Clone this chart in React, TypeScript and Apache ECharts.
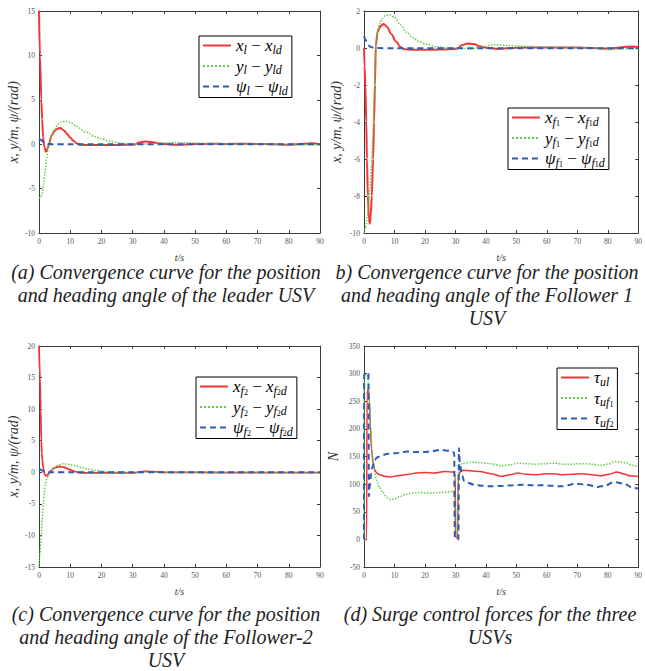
import React, { useEffect, useRef } from 'react';
import * as echarts from 'echarts';

// ---------- (a) leader USV ----------
const T_A_X = [0, 0.3, 0.75, 1.0, 1.3, 1.7, 2.2, 2.7, 3.2, 4, 5, 6, 6.8, 8, 9, 10, 11, 12, 13, 15, 20, 25, 30, 31, 32, 34, 36, 38, 40, 43, 46, 50, 55, 60, 65, 70, 75, 80, 85, 87, 90];
const V_A_X = [15, 10, 5, 2.8, 0.8, -0.3, -0.86, -0.55, 0, 0.95, 1.5, 1.77, 1.82, 1.55, 1.15, 0.75, 0.4, 0.12, -0.05, -0.1, -0.1, -0.08, -0.05, 0, 0.18, 0.3, 0.26, 0.12, 0.02, -0.05, -0.05, 0.02, 0.05, 0.03, 0.05, 0.03, 0, -0.05, 0.05, 0.1, 0];
const T_A_Y = [0, 0.5, 1, 1.5, 2, 2.5, 3, 3.5, 4, 5, 6, 7, 8.5, 10, 12, 15, 18, 20, 23, 26, 30, 34, 38, 42, 44, 48, 55, 60, 70, 80, 90];
const V_A_Y = [-6.1, -6.0, -5.6, -4.5, -3.0, -1.5, -0.4, 0.4, 1.0, 1.7, 2.2, 2.5, 2.6, 2.45, 2.0, 1.35, 0.85, 0.6, 0.3, 0.12, 0.0, 0.02, 0.1, 0.18, 0.2, 0.15, 0.08, 0.05, 0.03, -0.05, -0.05];
const T_A_P = [0, 0.5, 1, 1.5, 2, 2.5, 3, 4, 10, 20, 30, 40, 50, 60, 70, 80, 90];
const V_A_P = [0.6, 0.5, 0.38, 0.25, 0.15, 0.07, 0.02, 0, 0, 0, 0, 0, 0, 0, 0, 0, 0];

// ---------- (b) follower 1 ----------
const T_B_X = [0, 0.2, 0.43, 0.75, 0.96, 1.28, 1.6, 1.9, 2.2, 2.56, 3.0, 3.3, 3.6, 3.85, 4.5, 5.5, 6.5, 7.5, 9, 10.5, 12, 13, 15, 20, 25, 30, 31, 32, 34, 36, 38, 40, 44, 50, 60, 70, 80, 88, 90];
const V_B_X = [0, -1, -2, -4, -6, -8, -9.2, -9.5, -9.1, -8, -6, -4, -2, 0.1, 0.9, 1.2, 1.3, 1.15, 0.75, 0.35, 0.05, -0.05, -0.1, -0.1, -0.08, -0.05, 0, 0.15, 0.25, 0.22, 0.1, 0.02, -0.05, 0.02, 0.03, 0.03, -0.03, 0.08, 0.05];
const T_B_Y = [0, 0.5, 1.0, 1.5, 2.0, 2.5, 2.9, 3.3, 3.6, 3.9, 4.3, 5, 6, 7, 8.5, 10, 12, 14, 16, 18, 20, 24, 28, 30, 33, 35, 38, 43, 47, 55, 60, 70, 76, 80, 85, 90];
const V_B_Y = [-10, -9.7, -9.2, -8.5, -7.6, -6.3, -4.8, -3, -1.5, 0, 0.8, 1.3, 1.6, 1.75, 1.8, 1.65, 1.25, 0.85, 0.55, 0.35, 0.22, 0.06, 0, 0, -0.02, -0.05, 0.05, 0.18, 0.13, 0.08, 0.05, 0.02, 0, -0.1, -0.05, -0.02];
const T_B_P = [0, 0.5, 1, 1.5, 2, 3, 4, 10, 30, 50, 70, 90];
const V_B_P = [0.65, 0.45, 0.28, 0.15, 0.07, 0.02, 0, -0.02, -0.02, -0.02, -0.02, -0.02];

// ---------- (c) follower 2 ----------
const T_C_X = [0, 0.32, 0.53, 0.75, 0.9, 1.07, 1.4, 1.8, 2.24, 2.7, 3.2, 4, 5, 6.7, 8, 9, 10, 11, 12, 13, 15, 20, 25, 30, 31, 32, 34, 36, 38, 40, 50, 60, 70, 80, 90];
const V_C_X = [20, 15, 10, 5, 3, 2, 0.6, -0.3, -0.58, -0.45, -0.1, 0.35, 0.7, 0.92, 0.8, 0.6, 0.4, 0.2, 0.05, -0.05, -0.1, -0.1, -0.1, -0.1, -0.05, 0.05, 0.15, 0.12, 0.05, 0, -0.02, -0.05, -0.05, -0.05, -0.05];
const T_C_Y = [0, 0.3, 0.75, 1.0, 1.4, 1.7, 2.0, 2.4, 3.0, 3.5, 4, 5, 6, 7.8, 9, 10, 12, 14, 16, 18, 20, 22, 25, 30, 35, 40, 50, 60, 70, 80, 90];
const V_C_Y = [-15, -13, -10, -7.5, -5, -3.2, -2, -1.2, -0.6, -0.1, 0.3, 0.8, 1.1, 1.35, 1.3, 1.2, 0.95, 0.7, 0.5, 0.32, 0.2, 0.1, 0.03, 0, 0, 0, 0, 0, 0, -0.02, -0.02];
const T_C_P = [0, 0.5, 1, 1.5, 2, 3, 4, 10, 30, 50, 70, 90];
const V_C_P = [0.6, 0.45, 0.3, 0.18, 0.1, 0.02, 0, 0, 0, 0, 0, 0];

// ---------- (d) surge forces ----------
const T_D_L = [0, 0.85, 1.0, 1.4, 1.8, 2.1, 2.45, 3.0, 3.5, 4.2, 5.1, 7, 8.9, 11, 14.7, 17, 20, 23, 26.5, 29.1, 29.9, 30.1, 30.7, 31.0, 31.8, 35, 38, 41.5, 45.2, 48, 50.5, 53, 56.4, 59.5, 62.2, 65, 68.1, 71.8, 75, 77.7, 80.5, 83, 85, 87.3, 90];
const V_D_L = [0, 0, 262, 273, 250, 205, 162, 138, 126, 120, 117, 114, 113, 115, 118, 120, 121, 120, 123, 122, 118, 3, 3, 115, 125, 124, 123, 119, 114, 117, 120, 118, 117, 119, 119, 117, 118, 119, 117, 115, 118, 122, 119, 115, 114];
const T_D_F1 = [0, 0.05, 1.0, 1.4, 1.8, 2.2, 2.6, 3.0, 3.5, 4.05, 5, 6.2, 7.5, 8.9, 10, 11.5, 13.5, 15.8, 18, 20, 23, 25.4, 28, 29.3, 29.7, 29.9, 30.6, 30.9, 31.4, 32, 35, 38, 41.5, 45.2, 48, 50.5, 53, 56.4, 59.5, 62.7, 65.5, 68.1, 70, 72.4, 75, 77.7, 80, 82.5, 84.5, 86.2, 88, 90];
const V_D_F1 = [0, 298, 298, 285, 245, 200, 165, 140, 122, 108, 95, 85, 76, 72, 73, 77, 81, 84, 85, 84, 84, 85, 86, 87, 80, 10, 10, 120, 132, 137, 140, 139, 137, 133, 135, 138, 137, 136, 137, 138, 136, 136, 137, 137, 136, 134, 136, 141, 140, 138, 134, 132];
const T_D_F2 = [0, 0.05, 1.45, 1.6, 1.9, 2.3, 2.8, 3.5, 4.5, 6.2, 8, 10.5, 12.5, 14.7, 17, 20, 22.5, 24.9, 28.6, 29.6, 29.8, 31.0, 31.15, 31.5, 32.2, 32.9, 36.1, 39, 41.5, 45.8, 49, 52.1, 55, 58.5, 61.5, 64.9, 67, 69.2, 72.9, 76.6, 79, 82, 85.2, 88.4, 90];
const V_D_F2 = [0, 300, 300, 78, 96, 118, 132, 144, 149, 153, 155, 156, 158, 159, 158, 158, 160, 162, 160, 157, 3, 0, 165, 135, 115, 105, 99, 97, 96, 97, 98, 99, 98, 98, 97, 96, 98, 101, 99, 95, 97, 104, 101, 93, 92];

// ---------- axes ----------
const X_MIN = 0, X_MAX = 90, X_STEP = 10;
const Y_RANGES = [
  [-10, 15, 5],
  [-10, 2, 2],
  [-15, 20, 5],
  [-50, 350, 50],
];
const Y_NAMES = ['x, y/m, ψ/(rad)', 'x, y/m, ψ/(rad)', 'x, y/m, ψ/(rad)', 'N'];
const X_NAME = 't/s';

const CAPTIONS = [
  ['(a) Convergence curve for the position', 'and heading angle of the leader USV'],
  ['b) Convergence curve for the position', 'and heading angle of the Follower 1', 'USV'],
  ['(c) Convergence curve for the position', 'and heading angle of the Follower-2', 'USV'],
  ['(d) Surge control forces for the three', 'USVs'],
];

const RED = '#f53535';
const GREEN = '#5fcc45';
const BLUE = '#2c5cb4';
const SERIF = "'Liberation Serif', serif";

const GRIDS = [
  { left: 39, top: 11, width: 281, height: 222 },
  { left: 364, top: 11, width: 280, height: 222 },
  { left: 39, top: 346, width: 281, height: 221 },
  { left: 364, top: 346, width: 280, height: 221 },
];
const YNAME_GAP = [19, 21, 19, 24];

const LEG_TEXT: Record<string, string> = {
  a1: '{m|x}{s|l}{n| − }{m|x}{s|ld}',
  a2: '{m|y}{s|l}{n| − }{m|y}{s|ld}',
  a3: '{m|ψ}{s|l}{n| − }{m|ψ}{s|ld}',
  b1: '{m|x}{s|f}{ss|1}{n| − }{m|x}{s|f}{ss|1}{s|d}',
  b2: '{m|y}{s|f}{ss|1}{n| − }{m|y}{s|f}{ss|1}{s|d}',
  b3: '{m|ψ}{s|f}{ss|1}{n| − }{m|ψ}{s|f}{ss|1}{s|d}',
  c1: '{m|x}{s|f}{ss|2}{n| − }{m|x}{s|f}{ss|2}{s|d}',
  c2: '{m|y}{s|f}{ss|2}{n| − }{m|y}{s|f}{ss|2}{s|d}',
  c3: '{m|ψ}{s|f}{ss|2}{n| − }{m|ψ}{s|f}{ss|2}{s|d}',
  d1: '{m|τ}{s|ul}',
  d2: '{m|τ}{s|uf}{ss|1}',
  d3: '{m|τ}{s|uf}{ss|2}',
};
const LEG_POS = [
  { left: 199, top: 36 },
  { left: 508, top: 108 },
  { left: 196, top: 377 },
  { left: 557, top: 368 },
];

function pairs(t: number[], v: number[]) {
  return t.map((x, i) => [x, v[i]]);
}

export default function App() {
  const ref = useRef<HTMLDivElement>(null);
  useEffect(() => {
    if (!ref.current) return;
    const chart = echarts.init(ref.current, undefined, { renderer: 'svg' });
    const axisColor = '#3a3a3a';
    const lineStyle = { color: axisColor, width: 1 };
    const labelStyle = { fontFamily: SERIF, fontSize: 7.5, color: '#555', margin: 4 };

    const xAxis: any[] = [];
    const yAxis: any[] = [];
    GRIDS.forEach((g, i) => {
      const base = {
        type: 'value', gridIndex: i, min: X_MIN, max: X_MAX, interval: X_STEP,
        axisLine: { show: true, onZero: false, lineStyle },
        axisTick: { show: true, inside: true, length: 3, lineStyle },
        splitLine: { show: false },
      };
      xAxis.push({
        ...base, position: 'bottom', axisLabel: labelStyle,
        name: X_NAME, nameLocation: 'middle', nameGap: 19,
        nameTextStyle: { fontFamily: SERIF, fontStyle: 'italic', fontSize: 10, color: '#333' },
      });
      xAxis.push({ ...base, position: 'top', axisLabel: { show: false } });
      const [mn, mx, st] = Y_RANGES[i];
      const ybase = {
        type: 'value', gridIndex: i, min: mn, max: mx, interval: st,
        axisLine: { show: true, onZero: false, lineStyle },
        axisTick: { show: true, inside: true, length: 3, lineStyle },
        splitLine: { show: false },
      };
      yAxis.push({
        ...ybase, position: 'left', axisLabel: labelStyle,
        name: Y_NAMES[i], nameLocation: 'middle', nameGap: YNAME_GAP[i], nameRotate: 90,
        nameTextStyle: { fontFamily: SERIF, fontStyle: 'italic', fontSize: 14, color: '#333' },
      });
      yAxis.push({ ...ybase, position: 'right', axisLabel: { show: false } });
    });

    const mk = (name: string, t: number[], v: number[], gi: number, color: string, type: any, width: number) => ({
      name, type: 'line', xAxisIndex: gi * 2, yAxisIndex: gi * 2,
      data: pairs(t, v), symbol: 'none', showSymbol: false,
      smooth: 0.3, smoothMonotone: 'x', clip: true,
      lineStyle: { color, type, width }, itemStyle: { color },
    });

    const series = [
      mk('a1', T_A_X, V_A_X, 0, RED, 'solid', 2),
      mk('a2', T_A_Y, V_A_Y, 0, GREEN, 'dotted', 1.5),
      mk('a3', T_A_P, V_A_P, 0, BLUE, [6, 4], 2),
      mk('b1', T_B_X, V_B_X, 1, RED, 'solid', 2),
      mk('b2', T_B_Y, V_B_Y, 1, GREEN, 'dotted', 1.5),
      mk('b3', T_B_P, V_B_P, 1, BLUE, [6, 4], 2),
      mk('c1', T_C_X, V_C_X, 2, RED, 'solid', 1.8),
      mk('c2', T_C_Y, V_C_Y, 2, GREEN, 'dotted', 1.5),
      mk('c3', T_C_P, V_C_P, 2, BLUE, [6, 4], 2),
      mk('d1', T_D_L, V_D_L, 3, RED, 'solid', 1.5),
      mk('d2', T_D_F1, V_D_F1, 3, GREEN, 'dotted', 1.5),
      mk('d3', T_D_F2, V_D_F2, 3, BLUE, [6, 4], 2),
    ];

    const rich = {
      m: { fontFamily: SERIF, fontStyle: 'italic', fontSize: 17, lineHeight: 20, color: '#000' },
      n: { fontFamily: SERIF, fontSize: 17, lineHeight: 20, color: '#000' },
      s: { fontFamily: SERIF, fontStyle: 'italic', fontSize: 12, lineHeight: 10, verticalAlign: 'bottom', color: '#000' },
      ss: { fontFamily: SERIF, fontSize: 8, lineHeight: 5, verticalAlign: 'bottom', color: '#000' },
    };
    const groups = ['a', 'b', 'c', 'd'];
    const legend = groups.map((g, i) => ({
      data: [g + '1', g + '2', g + '3'],
      orient: 'vertical', left: LEG_POS[i].left, top: LEG_POS[i].top,
      itemWidth: 28, itemHeight: 12, itemGap: 2,
      padding: [1, 4, 1, 3],
      backgroundColor: '#fff', borderColor: '#000', borderWidth: 1,
      formatter: (name: string) => LEG_TEXT[name],
      itemStyle: { opacity: 0 },
      textStyle: { rich },
      selectedMode: false,
    }));

    const graphic: any[] = [];
    const capX = [166, 487, 166, 490];
    const capY = [272, 272, 614, 614];
    CAPTIONS.forEach((lines, i) => {
      lines.forEach((s, j) => {
        graphic.push({
          type: 'text', x: capX[i], y: capY[i] + j * 23, silent: true,
          style: {
            text: s, textAlign: 'center', textVerticalAlign: 'middle',
            font: "italic 20px 'Liberation Serif', serif", fill: '#222',
          },
        });
      });
    });

    chart.setOption({
      animation: false,
      backgroundColor: '#fff',
      grid: GRIDS.map((g) => ({ ...g, containLabel: false })),
      xAxis, yAxis, series, legend, graphic,
    });
    return () => chart.dispose();
  }, []);
  return <div ref={ref} style={{ position: 'absolute', left: 0, top: 0, width: 645, height: 671 }} />;
}
